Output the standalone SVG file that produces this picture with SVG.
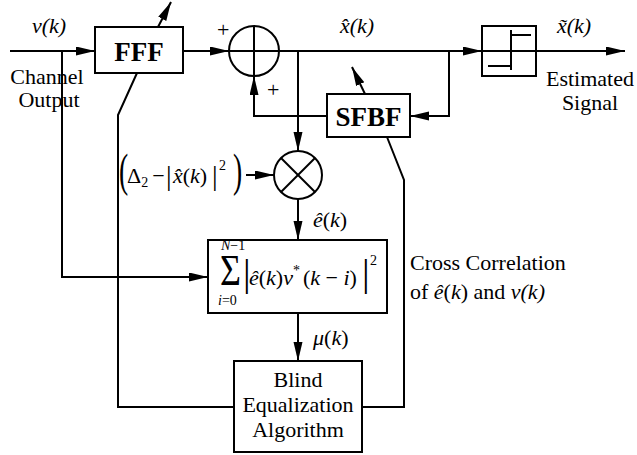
<svg xmlns="http://www.w3.org/2000/svg" width="637" height="455" viewBox="0 0 637 455">
<defs>
<marker id="ah" markerUnits="userSpaceOnUse" markerWidth="20" markerHeight="10" refX="19" refY="4.5" orient="auto"><path d="M0,0 L19,4.5 L0,9 z" fill="#000"/></marker>
<style>
.b{fill:#fff;stroke:#000;stroke-width:2}
.l{fill:none;stroke:#000;stroke-width:2}
.a{fill:none;stroke:#000;stroke-width:2;marker-end:url(#ah)}
text{font-family:"Liberation Serif","Times New Roman",serif;font-size:22px;fill:#000}
.i{font-style:italic}
.bd{font-weight:bold;font-size:27px}
.m{text-anchor:middle}
.s{font-size:14px}
</style>
</defs>
<rect width="637" height="455" fill="#fff"/>
<g id="connectors">
<line class="a" x1="10" y1="51" x2="95" y2="51"/>
<polyline class="a" points="62,51 62,277 208,277"/>
<line class="a" x1="183" y1="51" x2="229" y2="51"/>
<line class="a" x1="279" y1="51" x2="482" y2="51"/>
<line class="a" x1="536" y1="51" x2="625" y2="51"/>
<polyline class="a" points="449,51 449,116 410,116"/>
<polyline class="a" points="327,116 254,116 254,76"/>
<line class="a" x1="298" y1="51" x2="298" y2="151"/>
<line class="a" x1="246" y1="175" x2="274" y2="175"/>
<line class="a" x1="298" y1="199" x2="298" y2="240"/>
<line class="a" x1="298" y1="313" x2="298" y2="361"/>
<polyline class="l" points="137,73 118,115 118,407 234,407"/>
<polyline class="l" points="387,137 404,180 404,407 362,407"/>
<line class="a" x1="158" y1="27" x2="171" y2="2"/>
<line class="a" x1="365" y1="94" x2="352" y2="67"/>
</g>
<g id="fff"><rect class="b" x="95" y="27" width="88" height="46"/><text class="bd m" x="139" y="61">FFF</text></g>
<g id="adder"><circle class="b" cx="254" cy="51" r="25"/><line class="l" x1="229" y1="51" x2="279" y2="51"/><line class="l" x1="254" y1="26" x2="254" y2="76"/></g>
<g id="decision"><rect class="b" x="482" y="26" width="54" height="50"/><line class="l" x1="482" y1="51" x2="536" y2="51"/><polyline class="l" points="531,35 511,35 511,70"/><polyline class="l" points="511,30 511,66 488,66"/></g>
<g id="sfbf"><rect class="b" x="327" y="94" width="83" height="43"/><text class="bd m" x="368.5" y="126">SFBF</text></g>
<g id="multiplier"><circle class="b" cx="298" cy="175" r="24"/><line class="l" x1="281" y1="158" x2="315" y2="192"/><line class="l" x1="315" y1="158" x2="281" y2="192"/></g>
<g id="correlation"><rect class="b" x="208" y="240" width="179" height="73"/>
<text transform="translate(220,285) scale(0.9,1.1)" style="font-size:40px">Σ</text>
<text class="s" x="221" y="250"><tspan class="i">N</tspan>−1</text>
<text class="s" x="218" y="305"><tspan class="i">i</tspan>=0</text>
<text x="243" y="286" style="font-size:38px">|</text>
<text x="249" y="285"><tspan class="i">ê</tspan>(<tspan class="i">k</tspan>)<tspan class="i">v</tspan><tspan class="s" dy="-10">*</tspan><tspan dy="10" dx="3">(</tspan><tspan class="i">k</tspan> − <tspan class="i">i</tspan>)</text>
<text x="362" y="286" style="font-size:38px">|</text>
<text class="s" x="370" y="265">2</text>
</g>
<g id="blind"><rect class="b" x="234" y="361" width="128" height="91"/>
<text class="m" x="298" y="387">Blind</text><text class="m" x="298" y="412">Equalization</text><text class="m" x="298" y="437">Algorithm</text></g>
<g id="labels">
<text class="i" x="32" y="33">v(k)</text>
<text class="i" x="340" y="33">x̂(k)</text>
<text class="i" x="557" y="33">x̃(k)</text>
<text x="217" y="37">+</text>
<text x="267" y="97">+</text>
<text class="m" x="47" y="84">Channel</text>
<text class="m" x="49" y="107">Output</text>
<text class="m" x="590" y="86">Estimated</text>
<text class="m" x="590" y="110">Signal</text>
<text x="410" y="270">Cross Correlation</text>
<text x="410" y="299">of <tspan class="i">ê</tspan>(<tspan class="i">k</tspan>) and  <tspan class="i">v(k)</tspan></text>
<text x="313" y="227"><tspan class="i">ê</tspan>(<tspan class="i">k</tspan>)</text>
<text x="313" y="345"><tspan class="i">μ</tspan>(<tspan class="i">k</tspan>)</text>
<text transform="translate(119,186) scale(0.6,1)" style="font-size:46px">(</text>
<text x="127" y="183">Δ<tspan class="s" dy="4">2</tspan><tspan dy="-4" dx="4">−</tspan></text>
<text x="166" y="185" style="font-size:28px">|</text>
<text x="173" y="183"><tspan class="i">x̂</tspan>(<tspan class="i">k</tspan>)</text>
<text x="212" y="185" style="font-size:28px">|</text>
<text class="s" x="219" y="170">2</text>
<text transform="translate(233,186) scale(0.6,1)" style="font-size:46px">)</text>
</g>
</svg>
